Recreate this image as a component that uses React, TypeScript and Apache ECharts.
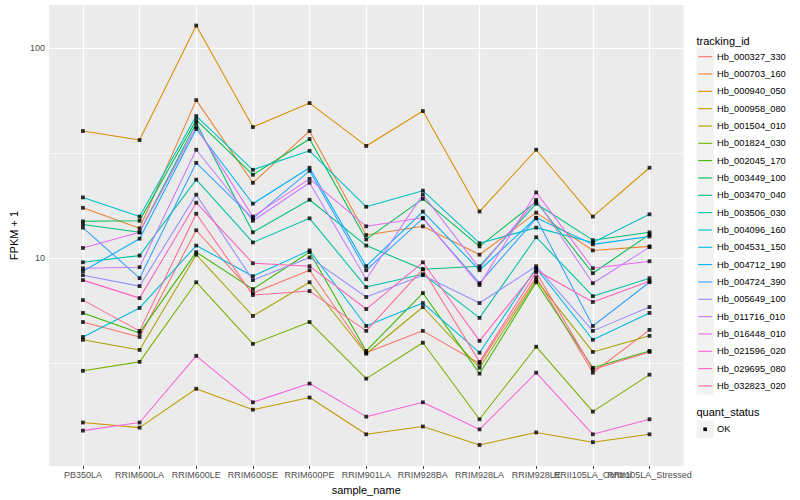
import React, { useEffect, useRef } from "react";
import * as echarts from "echarts";

// ---------- data ----------
const sampleNames = [
  "PB350LA", "RRIM600LA", "RRIM600LE", "RRIM600SE", "RRIM600PE", "RRIM901LA",
  "RRIM928BA", "RRIM928LA", "RRIM928LE", "RRII105LA_Control", "RRII105LA_Stressed",
];

const trackingIds = [
  "Hb_000327_330", "Hb_000703_160", "Hb_000940_050", "Hb_000958_080", "Hb_001504_010",
  "Hb_001824_030", "Hb_002045_170", "Hb_003449_100", "Hb_003470_040", "Hb_003506_030",
  "Hb_004096_160", "Hb_004531_150", "Hb_004712_190", "Hb_004724_390", "Hb_005649_100",
  "Hb_011716_010", "Hb_016448_010", "Hb_021596_020", "Hb_029695_080", "Hb_032823_020",
];

const palette = [
  "#F8766D", "#EA8331", "#D89000", "#C09B00", "#A3A500", "#7CAE00", "#39B600", "#00BB4E",
  "#00BF7D", "#00C1A3", "#00BFC4", "#00BAE0", "#00B0F6", "#35A2FF", "#9590FF", "#C77CFF",
  "#E76BF3", "#FA62DB", "#FF62BC", "#FF6C91",
];

// FPKM + 1 per sample (order of sampleNames)
const hb000327_330 = [4.97, 4.22, 13.6, 6.83, 8.77, 3.55, 4.51, 3.15, 8.13, 2.85, 4.56];
const hb000703_160 = [17.4, 13.9, 56.7, 22.9, 40.4, 12.9, 14.2, 10.4, 16.5, 10.9, 11.4];
const hb000940_050 = [40.4, 36.6, 128.5, 42.2, 54.9, 34.3, 50.3, 16.7, 32.9, 15.8, 27.0];
const hb000958_080 = [1.65, 1.56, 2.39, 1.9, 2.17, 1.45, 1.58, 1.29, 1.48, 1.33, 1.45];
const hb001504_010 = [4.09, 3.66, 10.4, 5.31, 7.69, 3.51, 5.86, 3.01, 7.87, 3.58, 4.27];
const hb001824_030 = [2.91, 3.21, 7.69, 3.91, 4.97, 2.67, 3.96, 1.71, 3.79, 1.86, 2.79];
const hb002045_170 = [5.49, 4.41, 10.7, 7.13, 10.7, 3.62, 6.83, 2.82, 7.69, 3.01, 3.62];
const hb003449_100 = [15.0, 15.1, 45.6, 25.0, 37.0, 12.3, 19.2, 11.4, 18.6, 8.49, 13.0];
const hb003470_040 = [14.5, 13.3, 44.1, 13.3, 19.0, 11.5, 8.87, 9.17, 18.2, 12.2, 13.3];
const hb003506_030 = [9.57, 10.3, 23.7, 11.9, 15.5, 7.29, 8.4, 5.2, 12.6, 6.6, 8.04];
const hb004096_160 = [19.5, 15.8, 47.6, 26.4, 32.5, 17.6, 21.0, 11.8, 14.0, 11.9, 16.2];
const hb004531_150 = [4.22, 5.8, 11.5, 8.22, 10.9, 4.76, 6.12, 3.55, 8.97, 4.09, 5.49];
const hb004712_190 = [8.68, 12.4, 41.3, 18.2, 27.0, 9.17, 16.7, 8.77, 15.6, 11.65, 12.7];
const hb004724_390 = [14.0, 8.04, 28.5, 15.5, 26.1, 8.77, 15.5, 7.61, 15.5, 4.76, 7.69];
const hb005649_100 = [8.31, 7.37, 20.1, 7.87, 10.1, 6.54, 8.31, 6.12, 9.17, 4.51, 5.86];
const hb011716_010 = [8.97, 9.07, 32.9, 15.1, 22.9, 7.95, 20.1, 8.97, 19.0, 7.61, 11.3];
const hb016448_010 = [11.2, 13.3, 42.2, 15.8, 23.9, 14.2, 15.6, 7.45, 20.6, 8.97, 9.68];
const hb021596_020 = [1.51, 1.65, 3.43, 2.06, 2.53, 1.76, 2.06, 1.53, 2.85, 1.45, 1.71];
const hb029695_080 = [7.87, 6.46, 18.4, 9.47, 9.17, 5.73, 9.57, 4.04, 8.77, 6.19, 7.78];
const hb032823_020 = [6.32, 4.51, 16.3, 6.68, 6.98, 4.51, 8.87, 3.21, 8.58, 2.95, 3.58];

const seriesValues = [
  hb000327_330, hb000703_160, hb000940_050, hb000958_080, hb001504_010,
  hb001824_030, hb002045_170, hb003449_100, hb003470_040, hb003506_030,
  hb004096_160, hb004531_150, hb004712_190, hb004724_390, hb005649_100,
  hb011716_010, hb016448_010, hb021596_020, hb029695_080, hb032823_020,
];

const yMajorBreaks = [10, 100];
const yMinorBreaks = [3.1623, 31.623];
const quantStatus = ["OK"];

// ---------- component ----------
export default function App() {
  const ref = useRef<HTMLDivElement>(null);

  useEffect(() => {
    if (!ref.current) return;
    const chart = echarts.init(ref.current, null, { renderer: "svg" });
    const font = "'Liberation Sans', Arial, Helvetica, sans-serif";
    const xIdx = sampleNames.map((_, i) => i);
    const xEven = xIdx.filter((i) => i % 2 === 0);
    const xOdd = xIdx.filter((i) => i % 2 === 1);

    const gridLines: any[] = [];
    yMajorBreaks.forEach((v) => gridLines.push({ yAxis: v, lineStyle: { width: 1.2 } }));
    yMinorBreaks.forEach((v) => gridLines.push({ yAxis: v, lineStyle: { width: 0.6 } }));
    xIdx.forEach((i) => gridLines.push({ xAxis: i, lineStyle: { width: 1.2 } }));

    const lineSeries = seriesValues.map((vals, k) => ({
      type: "line",
      name: trackingIds[k],
      data: vals.map((v, i) => [i, v]),
      symbol: "none",
      silent: true,
      z: 2,
      lineStyle: { color: palette[k], width: 1.07 },
      itemStyle: { color: palette[k] },
    }));

    const points: number[][] = [];
    seriesValues.forEach((vals) => vals.forEach((v, i) => points.push([i, v])));

    // legend built as graphic
    const lx = 696.5;
    const keyW = 17.3;
    const keyH = 17.33;
    const firstTop = 48;
    const legendEls: any[] = [
      {
        type: "text", x: lx, y: 41,
        style: { text: "tracking_id", fontSize: 11, fontFamily: font, fill: "#000", verticalAlign: "middle" },
      },
    ];
    trackingIds.forEach((id, k) => {
      const top = firstTop + k * keyH;
      const cy = top + keyH / 2;
      legendEls.push({ type: "rect", shape: { x: lx, y: top, width: keyW, height: keyH }, style: { fill: "#F2F2F2" } });
      legendEls.push({
        type: "line", shape: { x1: lx + 1.7, y1: cy, x2: lx + keyW - 1.7, y2: cy },
        style: { stroke: palette[k], lineWidth: 1.1 },
      });
      legendEls.push({
        type: "text", x: lx + 20.5, y: cy,
        style: { text: id, fontSize: 9.3, fontFamily: font, fill: "#000", verticalAlign: "middle" },
      });
    });
    legendEls.push({
      type: "text", x: lx, y: 412.3,
      style: { text: "quant_status", fontSize: 11, fontFamily: font, fill: "#000", verticalAlign: "middle" },
    });
    quantStatus.forEach((q, k) => {
      const top = 420.6 + k * keyH;
      const cy = top + keyH / 2;
      legendEls.push({ type: "rect", shape: { x: lx, y: top, width: keyW, height: keyH }, style: { fill: "#F2F2F2" } });
      legendEls.push({ type: "rect", shape: { x: lx + keyW / 2 - 1.8, y: cy - 1.8, width: 3.6, height: 3.6 }, style: { fill: "#000" } });
      legendEls.push({
        type: "text", x: lx + 20.5, y: cy,
        style: { text: q, fontSize: 9.3, fontFamily: font, fill: "#000", verticalAlign: "middle" },
      });
    });

    const xLabelStyle = {
      formatter: (v: number) => sampleNames[Math.round(v)] ?? "",
      fontSize: 9,
      color: "#4D4D4D",
      margin: 4,
      fontFamily: font,
      hideOverlap: false,
      showMinLabel: true,
      showMaxLabel: true,
    };

    chart.setOption({
      animation: false,
      backgroundColor: "#FFFFFF",
      textStyle: { fontFamily: font },
      grid: {
        left: 40, right: 116.5, top: 5, bottom: 32,
        show: true, backgroundColor: "#EBEBEB", borderWidth: 0,
      },
      xAxis: [
        {
          type: "value",
          min: -0.6,
          max: 10.6,
          position: "bottom",
          name: "sample_name",
          nameLocation: "middle",
          nameGap: 15,
          nameTextStyle: { fontSize: 11, color: "#000", fontFamily: font },
          axisLine: { show: false },
          splitLine: { show: false },
          axisTick: { show: true, customValues: xIdx, length: 2.75, lineStyle: { color: "#333333", width: 1.07 } },
          axisLabel: { ...xLabelStyle, customValues: xEven },
        },
        {
          type: "value",
          min: -0.6,
          max: 10.6,
          position: "bottom",
          axisLine: { show: false },
          splitLine: { show: false },
          axisTick: { show: false },
          axisLabel: { ...xLabelStyle, customValues: xOdd },
        },
      ],
      yAxis: {
        type: "log",
        logBase: 10,
        min: 1.023,
        max: 161,
        name: "FPKM + 1",
        nameLocation: "middle",
        nameGap: 23,
        nameTextStyle: { fontSize: 11, color: "#000", fontFamily: font },
        axisLine: { show: false },
        splitLine: { show: false },
        minorSplitLine: { show: false },
        axisTick: { show: true, customValues: yMajorBreaks, length: 2.75, lineStyle: { color: "#333333", width: 1.07 } },
        axisLabel: {
          customValues: yMajorBreaks,
          formatter: (v: number) => String(Math.round(v)),
          fontSize: 9,
          color: "#4D4D4D",
          margin: 4,
          fontFamily: font,
          showMinLabel: true,
          showMaxLabel: true,
        },
      },
      graphic: legendEls,
      series: [
        {
          type: "line",
          name: "__grid",
          data: [],
          silent: true,
          markLine: {
            z: 1,
            silent: true,
            symbol: ["none", "none"],
            label: { show: false },
            emphasis: { disabled: true },
            lineStyle: { color: "#FFFFFF", type: "solid", width: 1.2 },
            data: gridLines,
          },
        },
        ...lineSeries,
        {
          type: "scatter",
          name: "quant_status",
          data: points,
          symbol: "rect",
          symbolSize: 3.8,
          silent: true,
          z: 3,
          itemStyle: { color: "#000000" },
        },
      ],
    });

    return () => chart.dispose();
  }, []);

  return (
    <div
      ref={ref}
      style={{ position: "fixed", left: 0, top: 0, width: 800, height: 500, background: "#fff" }}
    />
  );
}
